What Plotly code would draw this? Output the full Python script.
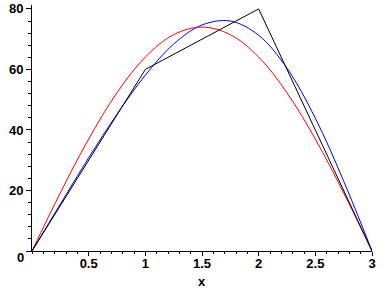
import plotly.graph_objects as go

# Black polyline (data points)
pts_x = [0, 1, 2, 3]
pts_y = [0, 60, 80, 0]

# Sample positions for the smooth curves
curve_x = [0, 0.25, 0.5, 0.75, 1.0, 1.25, 1.5, 1.75, 2.0, 2.25, 2.5, 2.75, 3.0]
red_y = [0, 19.2, 37.0, 52.3, 64.1, 71.5, 74.0, 71.5, 64.1, 52.3, 37.0, 19.2, 0]
blue_y = [0, 15.5, 30.8, 45.2, 58.1, 68.4, 74.7, 76.0, 71.3, 60.4, 43.9, 23.1, 0]

x_ticks = [0.5, 1, 1.5, 2, 2.5, 3]
x_tick_text = ["0.5", "1", "1.5", "2", "2.5", "3"]
y_ticks = [0, 20, 40, 60, 80]
y_tick_text = ["", "20", "40", "60", "80"]
origin_label = "0"
x_title = "x"

fig = go.Figure()
fig.add_trace(go.Scatter(x=curve_x, y=red_y, mode="lines",
                         line=dict(color="#ff0000", width=1, shape="spline"),
                         showlegend=False))
fig.add_trace(go.Scatter(x=curve_x, y=blue_y, mode="lines",
                         line=dict(color="#0000ff", width=1, shape="spline"),
                         showlegend=False))
fig.add_trace(go.Scatter(x=pts_x, y=pts_y, mode="lines",
                         line=dict(color="#000000", width=1),
                         showlegend=False))

tickfont = dict(family="Liberation Sans", size=13, color="black", weight="bold")

fig.add_annotation(x=0, y=0, xref="x", yref="y", text=origin_label,
                   showarrow=False, xanchor="right", yanchor="middle",
                   xshift=-6, yshift=-6, font=tickfont)
fig.add_annotation(x=0.5, y=0, xref="paper", yref="paper", text=x_title,
                   showarrow=False, xanchor="center", yanchor="middle",
                   yshift=-30, font=tickfont)

fig.update_layout(
    width=388, height=288,
    margin=dict(l=32, r=16, t=5, b=37),
    paper_bgcolor="white", plot_bgcolor="white",
    xaxis=dict(range=[0, 3], tickvals=x_ticks, ticktext=x_tick_text,
               showgrid=False, zeroline=False, showline=True,
               linecolor="black", linewidth=1, automargin=False,
               ticks="outside", ticklen=4, tickcolor="black", tickwidth=1,
               ticklabelstandoff=-4,
               minor=dict(dtick=0.1, ticks="outside", ticklen=2,
                          tickcolor="black", showgrid=False),
               tickfont=tickfont),
    yaxis=dict(range=[0, 81.3], tickvals=y_ticks, ticktext=y_tick_text,
               showgrid=False, zeroline=False, showline=True,
               linecolor="black", linewidth=1, automargin=False,
               ticks="outside", ticklen=5, tickcolor="black", tickwidth=1,
               minor=dict(dtick=4, ticks="outside", ticklen=3,
                          tickcolor="black", showgrid=False),
               tickfont=tickfont),
)

fig.write_html("out.html")
